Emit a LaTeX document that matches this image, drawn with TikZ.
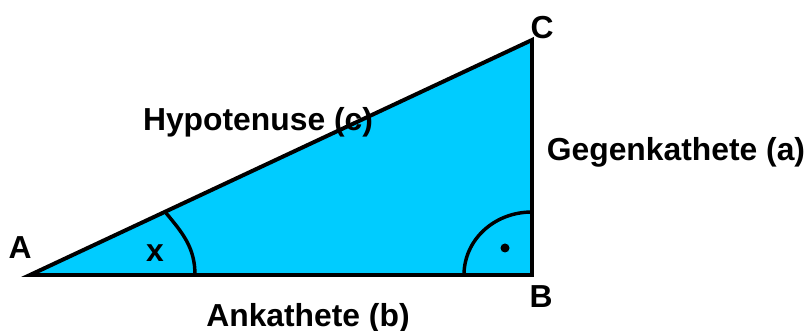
\documentclass[tikz,border=0pt]{standalone}
\usepackage{fontspec}
\setmainfont{Liberation Sans}
\usepackage{xcolor}
\usetikzlibrary{positioning, calc}
\definecolor{skyfill}{HTML}{00CCFF}

\begin{document}
\begin{tikzpicture}[
    x=0.0265cm, y=0.0265cm,
    side/.style={line width=3pt, line join=miter},
    anglearc/.style={line width=2.6pt},
    label/.style={inner sep=0pt, font=\fontsize{24}{28}\selectfont\bfseries}
]
    \useasboundingbox (0,0) rectangle (810,331);

    % Corners
    \coordinate (A) at (30,56);
    \coordinate (B) at (532,56);
    \coordinate (C) at (532,291);

    % Triangle
    \fill[skyfill] (A) -- (B) -- (C) -- cycle;

    % Angle marks
    \draw[anglearc] (195,56) to[out=90, in=-50] (166,118);
    \draw[anglearc] (464,56) .. controls (464,91) and (494,119) .. (532,119);
    \fill (505,83) circle[radius=4.5];

    \draw[side] (A) -- (B) -- (C) -- cycle;

    % Vertex labels
    \node[label] (lA) at (20,83) {A};
    \node[label] (lB) at (541,34) {B};
    \node[label] (lC) at (542,303) {C};
    \node[label] (lx) at (155,78) {x};

    % Side labels
    \node[label] (hyp) at (258,209) {Hypotenuse (c)};
    \node[label] (geg) at (676,179) {Gegenkathete (a)};
    \node[label] (ank) at (308,13) {Ankathete (b)};
\end{tikzpicture}
\end{document}
